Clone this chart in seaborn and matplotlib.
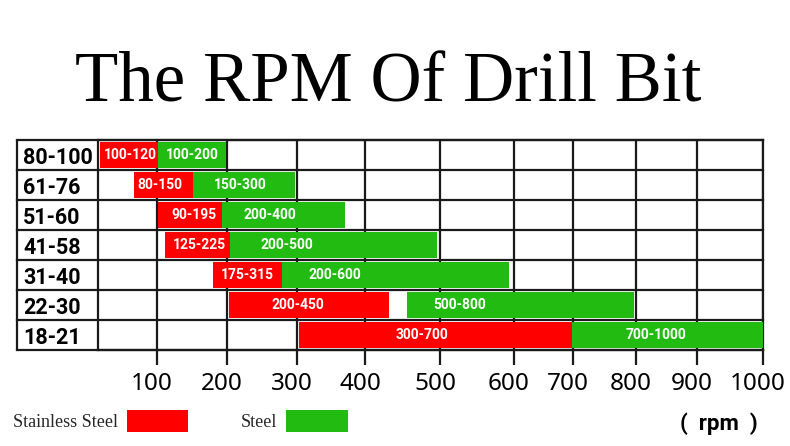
import numpy as np
import pandas as pd
import matplotlib
matplotlib.use("Agg")
import matplotlib.pyplot as plt
from matplotlib.patches import Patch
from matplotlib.transforms import ScaledTranslation
import seaborn as sns

# ---------------- data ----------------
categories = ["80-100", "61-76", "51-60", "41-58", "31-40", "22-30", "18-21"]

stainless_labels = ["100-120", "80-150", "90-195", "125-225", "175-315", "200-450", "300-700"]
stainless_start = [3, 61, 102, 111, 180, 203, 303]
stainless_end = [101, 151, 193, 204, 279, 432, 698]
stainless_label_at = [54, 104, 153, 160, 229, 301, 476]

steel_labels = ["100-200", "150-300", "200-400", "200-500", "200-600", "500-800", "700-1000"]
steel_start = [101, 151, 193, 204, 279, 456, 698]
steel_end = [199, 297, 371, 496, 593, 797, 1000]
steel_label_at = [150, 219, 261, 286, 356, 527, 833]

x_ticks = [100, 200, 300, 400, 500, 600, 700, 800, 900, 1000]

# ---------------- style ----------------
sns.set_theme(style="white")
plt.rcParams["font.family"] = ["Noto Sans", "DejaVu Sans"]
BOLD = ["Roboto", "DejaVu Sans"]

RED = "#ff0000"
GREEN = "#22bb11"
LINE = "#1a1a1a"

df = pd.DataFrame({
    "cat": categories,
    "s_start": stainless_start, "s_end": stainless_end,
    "s_lab": stainless_labels, "s_at": stainless_label_at,
    "g_start": steel_start, "g_end": steel_end,
    "g_lab": steel_labels, "g_at": steel_label_at,
})
df["row"] = np.arange(len(df))

W, H = 790, 446
fig = plt.figure(figsize=(W / 100, H / 100), dpi=100)
fig.patch.set_facecolor("white")

# axes box in pixels
ax_l, ax_r, ax_t, ax_b = 98, 763, 140, 350
ax = fig.add_axes([ax_l / W, 1 - ax_b / H, (ax_r - ax_l) / W, (ax_b - ax_t) / H])

# non-uniform grid spacing of the original chart, expressed as a scale
scale_vals = [0, 100, 200, 300, 400, 500, 600, 700, 800, 900, 1000]
scale_knots = [98, 157, 227, 297, 365, 440, 514, 573, 636, 697, 763]
ax.set_xscale("function",
              functions=(lambda v: np.interp(v, scale_vals, scale_knots),
                         lambda p: np.interp(p, scale_knots, scale_vals)))
ax.set_xlim(0, 1000)
ax.set_ylim(len(df) - 0.5, -0.5)

bar_h = 0.86
ax.barh(df["row"], df["s_end"] - df["s_start"], left=df["s_start"], height=bar_h,
        color=RED, linewidth=0, zorder=3)
ax.barh(df["row"], df["g_end"] - df["g_start"], left=df["g_start"], height=bar_h,
        color=GREEN, linewidth=0, zorder=3)

for _, r in df.iterrows():
    ax.text(r["s_at"], r["row"], r["s_lab"], color="white", fontsize=10,
            family=BOLD, fontweight="bold", ha="center", va="center", zorder=4)
    ax.text(r["g_at"], r["row"], r["g_lab"], color="white", fontsize=10,
            family=BOLD, fontweight="bold", ha="center", va="center", zorder=4)

# grid: vertical lines
for xv in x_ticks:
    ax.axvline(xv, color=LINE, lw=1.6, zorder=1)
# horizontal row lines extending into the label column
ext = -(ax_l - 17) / (ax_r - ax_l)
for yb in np.arange(-0.5, len(df) + 0.5, 1.0):
    ax.plot([ext, 1], [yb, yb], color=LINE, lw=1.6, zorder=1,
            transform=ax.get_yaxis_transform(), clip_on=False, solid_capstyle="projecting")
ax.plot([ext, ext], [-0.5, len(df) - 0.5], color=LINE, lw=1.6,
        transform=ax.get_yaxis_transform(), clip_on=False)

for s in ax.spines.values():
    s.set_visible(True)
    s.set_color(LINE)
    s.set_linewidth(1.6)

# ticks
ax.set_xticks(x_ticks)
ax.set_xticklabels([str(t) for t in x_ticks])
ax.tick_params(axis="x", bottom=True, direction="out", length=11, width=1.6,
               color=LINE, pad=5, labelsize=17.5, labelcolor="black")
shift = ScaledTranslation(-5 / 100, 0, fig.dpi_scale_trans)
for lab in ax.get_xticklabels():
    lab.set_transform(lab.get_transform() + shift)
ax.set_yticks(df["row"])
ax.set_yticklabels(categories)
ax.tick_params(axis="y", left=False, length=0, pad=(ax_l - 23) / 100 * 72,
               labelsize=15.5, labelcolor="black")
for lab in ax.get_yticklabels():
    lab.set_ha("left")
    lab.set_family(BOLD)
    lab.set_fontweight("bold")
ax.set_xlabel("")
ax.set_ylabel("")

# title
fig.text(388 / W, 1 - 101 / H, "The RPM Of Drill Bit", family="Liberation Serif",
         fontsize=51, ha="center", va="baseline", color="black")

# legend (text first, patch after)
handles = [Patch(facecolor=RED, edgecolor="none"), Patch(facecolor=GREEN, edgecolor="none")]
leg = fig.legend(handles, ["Stainless Steel", "Steel"], ncol=2, markerfirst=False,
                 loc="center left", bbox_to_anchor=(13 / W, 1 - 421 / H),
                 frameon=False, borderpad=0, borderaxespad=0,
                 handlelength=3.4, handleheight=1.5, handletextpad=0.5,
                 columnspacing=2.9,
                 prop={"family": "Liberation Serif", "size": 13})

fig.text(719 / W, 1 - 424 / H, "(  rpm  )", fontsize=16, family=BOLD, fontweight="bold",
         ha="center", va="center", color="black")

fig.savefig("out.png", dpi=100, facecolor="white")
